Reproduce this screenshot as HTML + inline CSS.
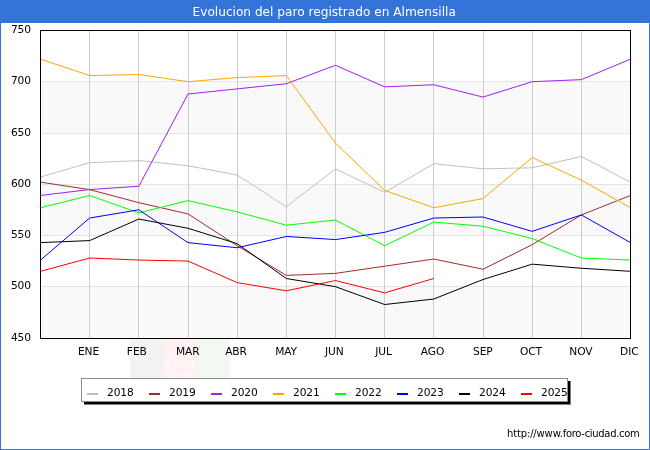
<!DOCTYPE html>
<html><head><meta charset="utf-8"><title>Evolucion del paro registrado en Almensilla</title>
<style>
html,body{margin:0;padding:0;background:#fff;}
body{width:650px;height:450px;overflow:hidden;position:relative;font-family:"DejaVu Sans","Liberation Sans",sans-serif;}
svg{position:absolute;left:0;top:0;display:block;}
text{font-family:"DejaVu Sans","Liberation Sans",sans-serif;}
</style></head><body>
<svg width="650" height="450" viewBox="0 0 650 450">
<rect x="0" y="0" width="650" height="450" fill="#ffffff"/>
<rect x="0" y="0" width="650" height="23" fill="#3473d7"/>
<rect x="0" y="0" width="1" height="450" fill="#3473d7"/>
<rect x="649" y="0" width="1" height="450" fill="#3473d7"/>
<rect x="0" y="449" width="650" height="1" fill="#3473d7"/>
<text x="324.2" y="16" font-size="12.15" fill="#ffffff" text-anchor="middle">Evolucion del paro registrado en Almensilla</text>

<rect x="130" y="339" width="33" height="39" fill="#f2f2f2"/><rect x="163" y="339" width="34" height="39" fill="#fdf1f1"/><rect x="197" y="339" width="33" height="39" fill="#f2f9f2"/>
<clipPath id="wm"><rect x="163" y="339" width="34" height="39"/></clipPath>
<g clip-path="url(#wm)" fill="none" stroke="#ffffff" stroke-opacity="0.5"><circle cx="180.4" cy="366.5" r="12.8" stroke-width="3.6" stroke-dasharray="3.2 1.1"/><path d="M174.5 373 L174.5 366 L180.4 360.5 L186.3 366 L186.3 373 Z" stroke-width="1.6"/><path d="M177 356.5 H183.8" stroke-width="1.6"/><path d="M172 375.5 H189" stroke-width="1.5"/></g>
<rect x="42" y="132" width="588" height="1" fill="#fcfcfc"/>
<rect x="42" y="82" width="588" height="50" fill="#f9f9f9"/>
<rect x="42" y="185" width="588" height="50" fill="#f9f9f9"/>
<rect x="42" y="287" width="588" height="51" fill="#f9f9f9"/>
<rect x="41" y="81" width="589" height="1" fill="#e4e4e4"/>
<rect x="41" y="133" width="589" height="1" fill="#e4e4e4"/>
<rect x="41" y="184" width="589" height="1" fill="#e4e4e4"/>
<rect x="41" y="235" width="589" height="1" fill="#e4e4e4"/>
<rect x="41" y="286" width="589" height="1" fill="#e4e4e4"/>
<rect x="89" y="31" width="1" height="307" fill="#cdcdcd"/>
<rect x="138" y="31" width="1" height="307" fill="#cdcdcd"/>
<rect x="188" y="31" width="1" height="307" fill="#cdcdcd"/>
<rect x="237" y="31" width="1" height="307" fill="#cdcdcd"/>
<rect x="286" y="31" width="1" height="307" fill="#cdcdcd"/>
<rect x="335" y="31" width="1" height="307" fill="#cdcdcd"/>
<rect x="384" y="31" width="1" height="307" fill="#cdcdcd"/>
<rect x="433" y="31" width="1" height="307" fill="#cdcdcd"/>
<rect x="483" y="31" width="1" height="307" fill="#cdcdcd"/>
<rect x="532" y="31" width="1" height="307" fill="#cdcdcd"/>
<rect x="581" y="31" width="1" height="307" fill="#cdcdcd"/>
<polyline points="40.50,177.02 89.67,162.67 138.83,160.62 188.00,165.75 237.17,174.97 286.33,206.75 335.50,168.82 384.67,192.40 433.83,163.70 483.00,168.82 532.17,167.80 581.33,156.52 630.50,182.15" fill="none" stroke="#c0c0c0" stroke-width="1" stroke-linejoin="round"/>
<polyline points="40.50,182.15 89.67,189.63 138.83,202.65 188.00,213.92 237.17,245.70 286.33,275.42 335.50,273.37 384.67,266.20 433.83,259.02 483.00,269.27 532.17,244.67 581.33,214.95 630.50,195.47" fill="none" stroke="#a52a2a" stroke-width="1" stroke-linejoin="round"/>
<polyline points="40.50,195.47 89.67,189.53 138.83,186.25 188.00,94.00 237.17,88.88 286.33,83.75 335.50,65.30 384.67,86.83 433.83,84.77 483.00,97.08 532.17,81.70 581.33,79.65 630.50,59.15" fill="none" stroke="#a020f0" stroke-width="1" stroke-linejoin="round"/>
<polyline points="40.50,59.15 89.67,75.55 138.83,74.52 188.00,81.70 237.17,77.60 286.33,75.55 335.50,143.20 384.67,190.35 433.83,207.77 483.00,198.55 532.17,157.55 581.33,180.10 630.50,207.77" fill="none" stroke="#ffa500" stroke-width="1" stroke-linejoin="round"/>
<polyline points="40.50,207.77 89.67,195.47 138.83,212.90 188.00,200.60 237.17,211.87 286.33,225.20 335.50,220.07 384.67,245.70 433.83,222.12 483.00,226.22 532.17,238.52 581.33,258.00 630.50,260.05" fill="none" stroke="#00ff00" stroke-width="1" stroke-linejoin="round"/>
<polyline points="40.50,260.05 89.67,218.02 138.83,209.82 188.00,242.62 237.17,247.75 286.33,236.47 335.50,239.55 384.67,232.37 433.83,218.02 483.00,217.00 532.17,231.35 581.33,214.95 630.50,242.62" fill="none" stroke="#0000ff" stroke-width="1" stroke-linejoin="round"/>
<polyline points="40.50,242.62 89.67,240.57 138.83,219.05 188.00,228.27 237.17,243.65 286.33,278.50 335.50,286.70 384.67,304.53 433.83,299.00 483.00,279.52 532.17,264.15 581.33,268.25 630.50,271.32" fill="none" stroke="#000000" stroke-width="1" stroke-linejoin="round"/>
<polyline points="40.50,271.32 89.67,258.00 138.83,260.05 188.00,261.07 237.17,282.60 286.33,290.80 335.50,280.55 384.67,292.85 433.83,278.50" fill="none" stroke="#ff0000" stroke-width="1" stroke-linejoin="round"/>
<rect x="40.5" y="30.5" width="590" height="308" fill="none" stroke="#000" stroke-width="1"/>
<text x="30.8" y="341.2" font-size="10.67" letter-spacing="-0.15" fill="#000" text-anchor="end">450</text>
<text x="30.8" y="289.2" font-size="10.67" letter-spacing="-0.15" fill="#000" text-anchor="end">500</text>
<text x="30.8" y="238.2" font-size="10.67" letter-spacing="-0.15" fill="#000" text-anchor="end">550</text>
<text x="30.8" y="187.2" font-size="10.67" letter-spacing="-0.15" fill="#000" text-anchor="end">600</text>
<text x="30.8" y="136.2" font-size="10.67" letter-spacing="-0.15" fill="#000" text-anchor="end">650</text>
<text x="30.8" y="84.2" font-size="10.67" letter-spacing="-0.15" fill="#000" text-anchor="end">700</text>
<text x="30.8" y="33.2" font-size="10.67" letter-spacing="-0.15" fill="#000" text-anchor="end">750</text>
<text x="88.5" y="355" font-size="10.67" letter-spacing="-0.1" fill="#000" text-anchor="middle">ENE</text>
<text x="136.8" y="355" font-size="10.67" letter-spacing="-0.1" fill="#000" text-anchor="middle">FEB</text>
<text x="187.8" y="355" font-size="10.67" letter-spacing="-0.1" fill="#000" text-anchor="middle">MAR</text>
<text x="236.0" y="355" font-size="10.67" letter-spacing="-0.1" fill="#000" text-anchor="middle">ABR</text>
<text x="286.1" y="355" font-size="10.67" letter-spacing="-0.1" fill="#000" text-anchor="middle">MAY</text>
<text x="334.3" y="355" font-size="10.67" letter-spacing="-0.1" fill="#000" text-anchor="middle">JUN</text>
<text x="383.5" y="355" font-size="10.67" letter-spacing="-0.1" fill="#000" text-anchor="middle">JUL</text>
<text x="432.6" y="355" font-size="10.67" letter-spacing="-0.1" fill="#000" text-anchor="middle">AGO</text>
<text x="482.8" y="355" font-size="10.67" letter-spacing="-0.1" fill="#000" text-anchor="middle">SEP</text>
<text x="531.0" y="355" font-size="10.67" letter-spacing="-0.1" fill="#000" text-anchor="middle">OCT</text>
<text x="580.9" y="355" font-size="10.67" letter-spacing="-0.1" fill="#000" text-anchor="middle">NOV</text>
<text x="629.3" y="355" font-size="10.67" letter-spacing="-0.1" fill="#000" text-anchor="middle">DIC</text>
<rect x="84" y="381" width="487" height="24" fill="#808080"/>
<rect x="84" y="381" width="486" height="23" fill="#000"/>
<rect x="81.5" y="378.5" width="486" height="23" fill="#fff" stroke="#8c8c8c" stroke-width="1"/>
<rect x="87" y="393" width="11" height="2" fill="#c0c0c0"/>
<text x="107" y="395.7" font-size="10.67" letter-spacing="-0.1" fill="#000">2018</text>
<rect x="149" y="393" width="11" height="2" fill="#a52a2a"/>
<text x="169" y="395.7" font-size="10.67" letter-spacing="-0.1" fill="#000">2019</text>
<rect x="211" y="393" width="11" height="2" fill="#a020f0"/>
<text x="231" y="395.7" font-size="10.67" letter-spacing="-0.1" fill="#000">2020</text>
<rect x="273" y="393" width="11" height="2" fill="#ffa500"/>
<text x="293" y="395.7" font-size="10.67" letter-spacing="-0.1" fill="#000">2021</text>
<rect x="335" y="393" width="11" height="2" fill="#00ff00"/>
<text x="355" y="395.7" font-size="10.67" letter-spacing="-0.1" fill="#000">2022</text>
<rect x="397" y="393" width="11" height="2" fill="#0000ff"/>
<text x="417" y="395.7" font-size="10.67" letter-spacing="-0.1" fill="#000">2023</text>
<rect x="459" y="393" width="11" height="2" fill="#000000"/>
<text x="479" y="395.7" font-size="10.67" letter-spacing="-0.1" fill="#000">2024</text>
<rect x="521" y="393" width="11" height="2" fill="#ff0000"/>
<text x="541" y="395.7" font-size="10.67" letter-spacing="-0.1" fill="#000">2025</text>
<text y="436.8" font-size="10" fill="#000"><tspan x="507.0" letter-spacing="-0.15">http://www.</tspan><tspan x="562.8" letter-spacing="-0.32">foro-ciudad.com</tspan></text>
</svg></body></html>
